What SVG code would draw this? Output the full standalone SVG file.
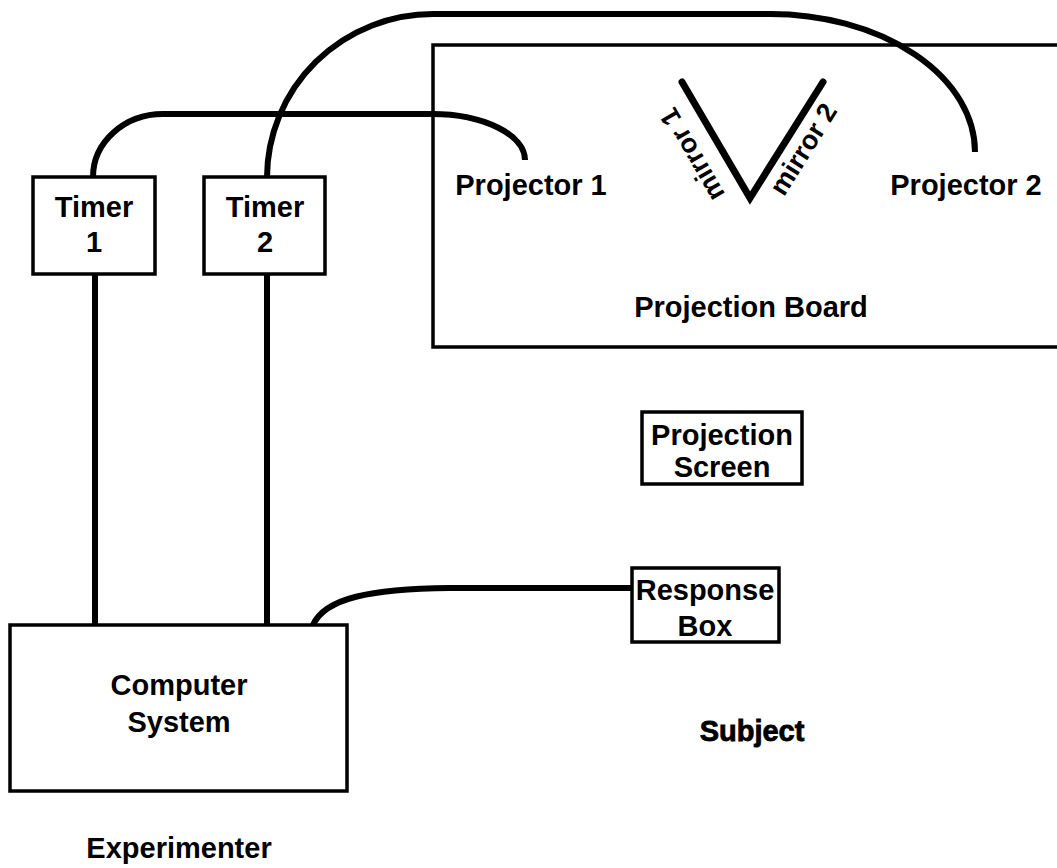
<svg xmlns="http://www.w3.org/2000/svg" width="1057" height="868" viewBox="0 0 1057 868">
<style>
.box{fill:none;stroke:#000;stroke-width:3.5}
.wire{fill:none;stroke:#000;stroke-width:6;stroke-linecap:butt}
.lbl{font-family:"Liberation Sans",Arial,sans-serif;font-weight:bold;font-size:29px;fill:#000;text-anchor:middle}
.mir{font-family:"Liberation Sans",Arial,sans-serif;font-weight:bold;font-size:27px;fill:#000;text-anchor:middle}
</style>
<rect width="1057" height="868" fill="#fff"/>
<g id="connectors">
<path class="wire" d="M267,177 A166,164 0 0 1 433,14 L770,14 A205,138 0 0 1 975,152"/>
<path class="wire" d="M93,177 A70,63 0 0 1 163,114 L432,114 A93,46 0 0 1 525,160"/>
<path class="wire" d="M95,274 L95,625"/>
<path class="wire" d="M267,274 L267,625"/>
<path class="wire" d="M313,625 C325,598 370,589 450,588 L632,588"/>
</g>
<g id="projection-board">
<path class="box" d="M1057,45 L433,45 L433,347 L1057,347"/>
<text class="lbl" x="751" y="317">Projection Board</text>
</g>
<g id="projector-1"><text class="lbl" x="531" y="195">Projector 1</text></g>
<g id="projector-2"><text class="lbl" x="966" y="195">Projector 2</text></g>
<g id="mirrors">
<polyline points="682,82 750,198 823,82" fill="none" stroke="#000" stroke-width="7" stroke-linecap="round" stroke-linejoin="miter"/>
<text class="mir" transform="translate(700,150) rotate(-120)">mirror 1</text>
<text class="mir" transform="translate(811,154) rotate(-58)">mirror 2</text>
</g>
<g id="timer-1">
<rect class="box" x="33" y="177" width="122" height="97"/>
<text class="lbl" x="94" y="217">Timer</text>
<text class="lbl" x="94" y="252">1</text>
</g>
<g id="timer-2">
<rect class="box" x="204" y="177" width="121" height="97"/>
<text class="lbl" x="265" y="217">Timer</text>
<text class="lbl" x="265" y="252">2</text>
</g>
<g id="projection-screen">
<rect class="box" x="642" y="412" width="160" height="72"/>
<text class="lbl" x="722" y="445">Projection</text>
<text class="lbl" x="722" y="477">Screen</text>
</g>
<g id="response-box">
<rect class="box" x="632" y="568" width="147" height="74"/>
<text class="lbl" x="705" y="600">Response</text>
<text class="lbl" x="705" y="636">Box</text>
</g>
<g id="computer-system">
<rect class="box" x="10" y="625" width="337" height="166"/>
<text class="lbl" x="179" y="695">Computer</text>
<text class="lbl" x="179" y="732">System</text>
</g>
<g id="subject"><text class="lbl" x="752" y="741" stroke="#000" stroke-width="0.8">Subject</text></g>
<g id="experimenter"><text class="lbl" x="179" y="858">Experimenter</text></g>
</svg>
